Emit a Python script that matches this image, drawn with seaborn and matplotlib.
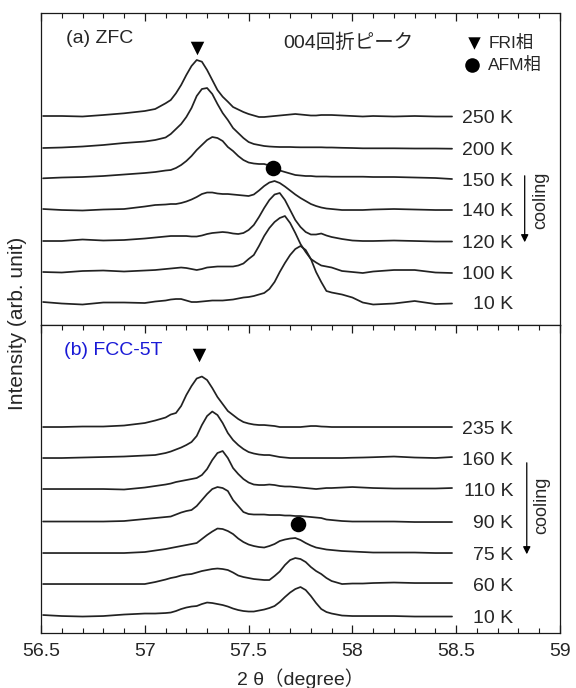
import matplotlib
matplotlib.use("Agg")
import matplotlib.pyplot as plt
from matplotlib.ticker import MultipleLocator, FuncFormatter
import seaborn as sns
import pandas as pd

# ---------------- data ----------------
two_theta = [56.51, 56.6, 56.7, 56.8, 56.9, 57.0, 57.05,
             57.1, 57.125, 57.15, 57.175, 57.2, 57.225, 57.25, 57.275, 57.3, 57.325,
             57.35, 57.375, 57.4, 57.425, 57.45, 57.475, 57.5, 57.525, 57.55, 57.575,
             57.6, 57.625, 57.65, 57.675, 57.7, 57.725, 57.75, 57.775, 57.8, 57.825,
             57.85, 57.875, 57.9,
             57.95, 58.0, 58.05, 58.1, 58.2, 58.3, 58.4, 58.48]

# (a) ZFC
zfc_labels = ["250 K", "200 K", "150 K", "140 K", "120 K", "100 K", "10 K"]
zfc_offsets = [209, 177, 146, 116, 84, 53, 23]
zfc_250 = [0, 0, -0.5, 1, 2.7, 5, 7, 12.7, 16, 22.7, 31, 41, 50, 56, 54.3, 46, 36, 26, 19.3, 14.3,
           9, 6.5, 4, 2, 0.5, -1, -1, -0.5, 0, 0.5, 1, 1.5, 2, 1.5, 1, 0.5, 0.5, 1, 1, 1,
           0.5, 0, -0.5, 0, -0.5, 0, -0.5, -0.5]
zfc_200 = [0, 0.5, 1.5, 3, 5, 6.5, 8, 10.5, 14, 19, 24, 31, 40, 52, 59, 60, 54, 44, 35, 28,
           20, 15, 10, 6, 4, 3, 2, 1.5, 1.2, 1, 1, 1, 0.8, 0.7, 0.7, 0.7, 0.7, 0.7, 0.5, 0.5,
           0.2, 0, -0.3, -0.3, -0.3, -0.5, -0.5, -0.7]
zfc_150 = [0.7, 1.5, 2, 3, 4.5, 6, 7, 8.5, 9, 11, 14, 18, 23, 29, 34, 39, 42, 41, 38, 32,
           28, 23, 19, 16.5, 15.5, 15, 15, 13.5, 11, 8.5, 7, 5.5, 4, 3.5, 3, 3, 2.5, 2.5, 2.5, 2.3,
           2.3, 2.3, 2.3, 2, 2, 1.5, 1, 0]
zfc_140 = [0, -1, -1.5, -0.5, 0, 2.5, 4, 4.5, 5, 5, 6, 7.5, 9.5, 12, 15, 16.5, 16.5, 15.5, 15, 15,
           14.5, 14, 13.5, 13, 14.5, 18.5, 23, 26.5, 28, 26, 22.5, 18.5, 14.5, 11, 8, 5, 3, 1.5, 0.5, 0,
           -1, -1, -1, -0.5, 0, -0.5, -1, -1]
zfc_120 = [0, 0, 1.5, 0.5, 1, 2.5, 3.5, 4.5, 5, 5, 5, 5, 4.5, 4.5, 5.5, 7, 8, 8.5, 9, 8.5,
           7.5, 7, 8, 11, 16, 24, 33, 41, 46.5, 48, 41, 31, 21, 14, 9, 6.5, 6.5, 7.5, 5.5, 4,
           2, 0.5, 0, 0, 0.5, 0, -0.5, -0.5]
zfc_100 = [0, -0.5, 1, 1.5, 0.5, 1.5, 2, 3, 3.5, 4, 4.5, 4, 3, 2, 3, 4.5, 5, 5.5, 5.5, 5.5,
           5.5, 6.5, 8.5, 13, 17, 26, 36, 44, 50, 54, 56, 49, 39, 28, 20, 13, 9.5, 6.5, 5.5, 4.5,
           1, 0, -1, 0.5, 2, 2, -0.5, -1]
zfc_10 = [0, -1.5, -2.5, -0.5, -0.5, -1, 0.5, 1.5, 2.5, 3, 3, 1.5, 0, 0, 0.5, 1, 1.5, 1.5, 1.5, 2,
          2.5, 3.5, 4.5, 5, 6, 7.5, 9, 13, 20, 30, 39, 47, 53, 56, 52, 43, 30, 20, 11, 9.5,
          7.5, 4.5, -0.5, -2.5, -1.5, 1, -2, -1.5]
zfc_curves = [zfc_250, zfc_200, zfc_150, zfc_140, zfc_120, zfc_100, zfc_10]

# (b) FCC-5T
fcc_labels = ["235 K", "160 K", "110 K", "90 K", "75 K", "60 K", "10 K"]
fcc_offsets = [206, 175, 144, 112, 80, 49, 17]
fcc_235 = [0, 0, 0.5, 0.5, 1.5, 4, 6.5, 9.5, 12.5, 14, 21, 32, 41, 48.5, 50.5, 47, 39, 30, 23, 16,
           12, 8, 5, 3.5, 2.5, 2, 2, 1.5, 1, 0, 0, 0, 0, 0, 0.5, 1, 1, 0.5, 0.3, 0,
           0, 0, 0, 0, 0, 0, 0, 0]
fcc_160 = [0, 0, 0.5, 1, 1.5, 2.5, 3, 5, 6.5, 8.5, 10.5, 13, 16, 22, 33, 42, 46.5, 43, 35, 25,
           18, 13, 9, 6, 4.5, 3.5, 3, 3, 2, 1, 0.5, 0, 0, 0, 0, 0, 0, 0, 0, 0,
           0, 0.3, 0.5, 0.8, 1.5, 0.5, 0, 1]
fcc_110 = [0, 0, 0, 0, -0.5, 1.5, 3, 4.5, 5.5, 7, 8, 9, 10, 11, 14, 20, 29, 36, 38, 31,
           21, 15, 10, 6.5, 4.5, 4, 4, 4.5, 4, 3, 2.5, 2.5, 2, 1.5, 1, 0.5, 0, 0.5, 1, 1,
           1.5, 2, 1.5, 1, 0.5, 0.5, 0.5, 1]
fcc_90 = [-0.5, -0.5, -0.5, -0.5, 0, 2, 3, 4, 4.5, 6.5, 8.5, 10, 11, 15, 21, 27, 32, 34, 33, 30,
          21, 15, 9, 7, 6.5, 6.5, 6.5, 6, 6, 6, 5.5, 5.5, 5, 5, 4.5, 4, 3.5, 3, 1.5, 1,
          0, -0.5, -0.5, -0.5, -0.5, -1, -1, -1]
fcc_75 = [0, 0, 0, 0, 0, 1, 2.5, 4, 5, 6, 7, 8, 9, 10, 14, 18, 21.5, 24.5, 24, 22,
          19, 14.5, 11, 8.5, 7, 6, 5.5, 7, 9, 12, 13.5, 14.5, 15, 13, 10, 7.5, 5.5, 4.5, 3.5, 3,
          2, 1.5, 1, 0.5, 0.5, 0.5, 0, 0]
fcc_60 = [0, 0, 0, 0, 0, 0, 2, 4.5, 6, 7, 8.5, 9.5, 10, 11.5, 13, 14, 15, 15.5, 15, 14,
          11.5, 8.5, 7, 6, 5, 4.5, 4, 4, 8, 12.5, 19, 24, 26, 25, 22, 17, 13, 10, 6, 3,
          0, 0.5, 0.5, 1, 1.5, 1, 1, 1]
fcc_10 = [1, 0, -0.5, 0, 1.5, 2.5, 2.5, 3, 3.5, 5, 7, 8.5, 9.5, 10, 12, 13.5, 13, 12, 11, 9.5,
          7.5, 6, 5, 4.5, 4.5, 5.5, 6.5, 8, 10, 14, 19, 23.5, 27, 29, 26, 20, 13, 7, 4, 2.5,
          0.5, 0, 0, 0, 0, -0.5, -0.5, -0.5]
fcc_curves = [fcc_235, fcc_160, fcc_110, fcc_90, fcc_75, fcc_60, fcc_10]

# peak markers: (2theta, height in panel units)
zfc_fri = (57.25, 277)
zfc_afm = (57.617, 157)
fcc_fri = (57.26, 278)
fcc_afm = (57.737, 109)

# ---------------- style ----------------
sns.set_style("ticks")
plt.rcParams["font.family"] = ["Liberation Sans", "Noto Sans CJK JP", "DejaVu Sans"]
plt.rcParams["axes.linewidth"] = 0.9
LINE = "#1a1a1a"

fig = plt.figure(figsize=(5.76, 6.88), dpi=100)
ax_a = fig.add_axes([0.0712, 0.5276, 0.9010, 0.4535])
ax_b = fig.add_axes([0.0712, 0.0799, 0.9010, 0.4477])


def draw_panel(ax, curves, offsets, labels, ymax):
    for y, off, lab in zip(curves, offsets, labels):
        df = pd.DataFrame({"x": two_theta, "y": [v + off for v in y]})
        sns.lineplot(data=df, x="x", y="y", ax=ax, color="#222222", lw=1.25, sort=False)
        ax.text(58.775, off - 2, lab, ha="right", va="center", fontsize=14)
    ax.set_xlim(56.5, 59)
    ax.set_ylim(0, ymax)
    ax.set_yticks([])
    ax.set_xlabel("")
    ax.set_ylabel("")
    ax.xaxis.set_major_locator(MultipleLocator(0.5))
    ax.xaxis.set_minor_locator(MultipleLocator(0.1))
    ax.xaxis.set_major_formatter(FuncFormatter(lambda v, p: f"{v:g}"))
    ax.tick_params(axis="x", which="both", direction="in", top=True, bottom=True,
                   labelsize=14, color=LINE, pad=7)
    ax.tick_params(axis="x", which="major", length=6, width=0.9)
    ax.tick_params(axis="x", which="minor", length=3.5, width=0.8)
    for s in ax.spines.values():
        s.set_color(LINE)


draw_panel(ax_a, zfc_curves, zfc_offsets, zfc_labels, 312)
draw_panel(ax_b, fcc_curves, fcc_offsets, fcc_labels, 308)
ax_a.tick_params(axis="x", labelbottom=False, bottom=False, which="both")

# markers
for ax, fri, afm in [(ax_a, zfc_fri, zfc_afm), (ax_b, fcc_fri, fcc_afm)]:
    ax.scatter([fri[0]], [fri[1]], marker="v", s=95, color="black", zorder=5, linewidths=0)
    ax.scatter([afm[0]], [afm[1]], marker="o", s=125, color="black", zorder=5, linewidths=0)

# panel (a) annotations
ax_a.text(56.62, 287, "(a) ZFC", fontsize=14, ha="left", va="center")
ax_a.text(57.98, 282, "004回折ピーク", fontsize=14, ha="center", va="center")
ax_a.scatter([58.587], [282], marker="v", s=80, color="black", linewidths=0)
ax_a.scatter([58.577], [260], marker="o", s=110, color="black", linewidths=0)
ax_a.text(58.655, 282, "FRI相", fontsize=12.5, ha="left", va="center")
ax_a.text(58.655, 260, "AFM相", fontsize=12.5, ha="left", va="center")
ax_a.annotate("", xy=(58.83, 80), xytext=(58.83, 152),
              arrowprops=dict(arrowstyle="-|>", color="black", lw=0.9, mutation_scale=11))
ax_a.text(58.905, 125, "cooling", rotation=90, fontsize=13, ha="center", va="center")

# panel (b) annotations
ax_b.text(56.61, 283, "(b) FCC-5T", fontsize=14, ha="left", va="center", color="#1a1ad6")
ax_b.annotate("", xy=(58.84, 76), xytext=(58.84, 173),
              arrowprops=dict(arrowstyle="-|>", color="black", lw=0.9, mutation_scale=11))
ax_b.text(58.91, 128, "cooling", rotation=90, fontsize=13, ha="center", va="center")

ax_b.set_xlabel("2 θ（degree）", fontsize=14, labelpad=6)
fig.text(0.031, 0.53, "Intensity (arb. unit)", rotation=90, fontsize=15,
         ha="center", va="center")

fig.savefig("out.png", dpi=100)
